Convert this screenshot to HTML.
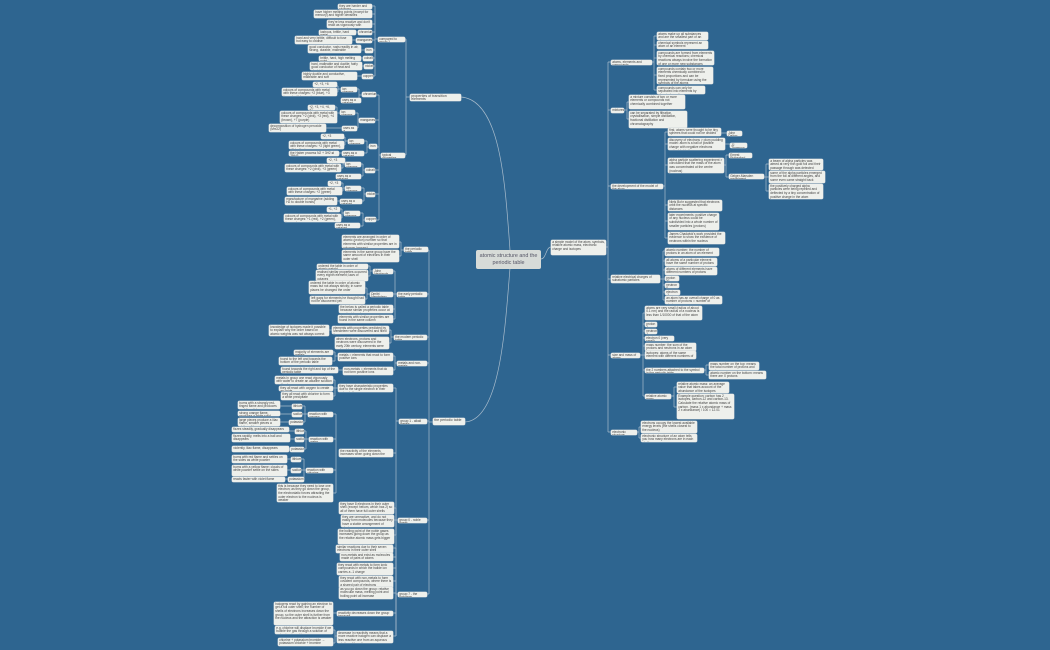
<!DOCTYPE html>
<html><head><meta charset="utf-8"><style>
body{margin:0;width:1050px;height:650px;background:#2e6590;overflow:hidden;font-family:"Liberation Sans",sans-serif;}
#c{position:relative;width:1050px;height:650px;}
svg{position:absolute;left:0;top:0}
.b{position:absolute;background:#eef0ec;border-radius:1.5px;font-size:3.2px;line-height:3.7px;color:#444;padding:0.6px 1.2px;box-sizing:border-box;overflow:hidden;box-shadow:0 0 0 0.4px #c9cfd3}
.m{position:absolute;background:#d7dbd8;border-radius:2px;color:#556;box-sizing:border-box;text-align:center;font-size:4.2px;line-height:5px;padding:1px}
</style></head><body><div id="c">
<svg width="1050" height="650" fill="none" stroke="#a9bccc" stroke-width="0.7">
<path d="M510 250 C505 180,500 100,461 97"/>
<path d="M510 268 C505 330,500 420,465 422"/>
<path d="M541 259 C546 259,546 247,551 247"/>
<path d="M606 247 H608 M608 62 V432 M608 62 H611 M608 110 H611 M608 186 H611 M608 279 H611 M608 355 H611 M608 432 H611"/>
<path d="M652 62 H654 M654 36 V90 M654 36 H657 M654 45 H657 M654 58 H657 M654 75 H657 M654 90 H657"/>
<path d="M624 110 H627 M627 102 V119 M627 102 H629 M627 119 H629"/>
<path d="M663 186 H665 M665 132 V238 M665 132 H668 M665 144 H668 M665 165 H668 M665 205 H668 M665 221 H668 M665 238 H668 M721 133 H727 M725 144 H730 M724 165 H726 M726 155 V177 M726 155 H729 M726 177 H729 M764 177 H766 M766 164 V191 M766 164 H769 M766 177 H769 M766 191 H769"/>
<path d="M660 279 H663 M663 251 V300 M663 251 H665 M663 261 H665 M663 270 H665 M663 279 H665 M663 285 H665 M663 292 H665 M663 300 H665"/>
<path d="M640 355 H643 M643 313 V396 M643 313 H645 M643 324 H645 M643 331 H645 M643 338 H645 M643 346 H645 M643 355 H645 M643 370 H645 M643 396 H645 M704 370 H706 M706 365 V375 M706 365 H709 M706 375 H709 M671 396 H674 M674 387 V407 M674 387 H677 M674 407 H677"/>
<path d="M637 432 H639 M639 427 V438 M639 427 H641 M639 438 H641"/>
<path d="M410 97 H406 M406 39 V155 M406 39 H404 M406 155 H405"/>
<path d="M378 39 H375 M375 6 V76 M375 6 H372 M375 14 H372 M375 24 H372 M375 32 H372 M375 40 H372 M375 50 H373 M375 58 H373 M375 66 H373 M375 76 H373 M358 32 H356 M356 40 H352 M365 50 H361 M363 58 H361 M364 66 H362 M362 76 H357"/>
<path d="M381 155 H379 M379 95 V220 M379 95 H376 M379 120 H375 M379 147 H377 M379 170 H375 M379 194 H375 M379 220 H376"/>
<path d="M362 95 H359 M359 89 V100 M359 89 H357 M359 100 H361 M341 89 H338 M338 86 V92 M338 86 H337 M338 92 H337"/>
<path d="M359 120 H358 M358 113 V128 M358 113 H355 M358 128 H357 M340 113 H337 M337 107 V117 M337 107 H335 M337 117 H337 M342 128 H326"/>
<path d="M369 147 H367 M367 141 V153 M367 141 H364 M367 153 H364 M348 141 H345 M345 137 V145 M345 137 H344 M345 145 H344 M342 153 H339"/>
<path d="M365 170 H363 M363 164 V176 M363 164 H361 M363 176 H361 M345 164 H343 M343 160 V168 M343 160 H345 M343 168 H341"/>
<path d="M366 194 H364 M364 188 V201 M364 188 H361 M364 201 H362 M345 188 H343 M343 183 V191 M343 183 H341 M343 191 H342 M340 201 H337"/>
<path d="M365 220 H363 M363 213 V226 M363 213 H360 M363 226 H360 M344 213 H342 M342 209 V218 M342 209 H340 M342 218 H341"/>
<path d="M433 422 H429 M429 250 V594 M429 250 H428 M429 294 H427 M429 337 H427 M429 363 H427 M429 421 H427 M429 520 H427 M429 594 H427"/>
<path d="M404 250 H401 M401 242 V256 M401 242 H399 M401 256 H399"/>
<path d="M397 294 H395 M395 271 V319 M395 271 H393 M395 294 H393 M395 309 H393 M395 319 H393 M373 271 H370 M370 266 V276 M370 266 H368 M370 276 H368 M370 294 H367 M367 288 V299 M367 288 H365 M367 299 H365"/>
<path d="M394 337 H391 M391 330 V343 M391 330 H389 M391 343 H389 M332 330 H329"/>
<path d="M397 363 H395 M395 356 V370 M395 356 H393 M395 370 H393 M338 356 H335 M335 352 V361 M335 352 H333 M335 361 H332 M343 370 H338"/>
<path d="M399 421 H396 M396 388 V636 M396 388 H393 M396 453 H393 M396 421 H396 M336 453 H336 M336 414 V493 M336 414 H333 M336 439 H333 M336 470 H333 M336 493 H333 M338 388 H335 M335 380 V396 M335 380 H333 M335 388 H333 M335 396 H333"/>
<path d="M308 414 H305 M305 406 V422 M305 406 H302 M305 414 H302 M305 422 H303 M292 406 H280 M292 414 H280 M289 422 H280"/>
<path d="M309 439 H306 M306 431 V449 M306 431 H304 M306 439 H304 M306 449 H304 M295 431 H289 M295 439 H290 M290 449 H289"/>
<path d="M306 470 H304 M304 459 V479 M304 459 H301 M304 470 H301 M304 479 H304 M291 459 H287 M291 470 H287 M288 479 H285"/>
<path d="M398 520 H396 M396 508 V535 M396 508 H394 M396 520 H394 M396 535 H394"/>
<path d="M398 594 H396 M396 548 V636 M396 548 H393 M396 557 H393 M396 568 H393 M396 581 H393 M396 593 H393 M396 613 H393 M396 636 H393 M337 613 H333 M337 636 H335 M335 630 V643 M335 630 H333 M335 643 H333"/>
</svg>

<div class="m" style="left:476px;top:250px;width:65px;height:19px;font-size:5.4px;line-height:6.5px;padding-top:3px">atomic structure and the periodic table</div>
<div class="b" style="left:551px;top:240px;width:55px;height:15px">a simple model of the atom, symbols, relative atomic mass, electronic charge and isotopes</div>
<div class="b" style="left:410px;top:94px;width:51px;height:7px;font-size:3.6px">properties of transition elements</div>
<div class="b" style="left:433px;top:418px;width:32px;height:7px;font-size:3.6px">the periodic table</div>

<!-- right side -->
<div class="b" style="left:611px;top:60px;width:41px;height:5px">atoms, elements and compounds</div>
<div class="b" style="left:657px;top:32px;width:51px;height:8px">atoms make up all substances and are the smallest part of an element</div>
<div class="b" style="left:657px;top:41px;width:51px;height:8px">chemical symbols represent an atom of an element</div>
<div class="b" style="left:657px;top:51px;width:57px;height:14px">compounds are formed from elements by chemical reactions; chemical reactions always involve the formation of one or more new substances</div>
<div class="b" style="left:657px;top:67px;width:56px;height:17px">compounds contain two or more elements chemically combined in fixed proportions and can be represented by formulae using the symbols of the atoms</div>
<div class="b" style="left:657px;top:86px;width:48px;height:8px">compounds can only be separated into elements by chemical reactions</div>
<div class="b" style="left:611px;top:108px;width:13px;height:5px">mixtures</div>
<div class="b" style="left:629px;top:95px;width:56px;height:14px">a mixture consists of two or more elements or compounds not chemically combined together</div>
<div class="b" style="left:629px;top:111px;width:58px;height:17px">can be separated by filtration, crystallisation, simple distillation, fractional distillation and chromatography</div>
<div class="b" style="left:611px;top:184px;width:52px;height:5px">the development of the model of the atom</div>
<div class="b" style="left:668px;top:128px;width:53px;height:8px">first, atoms were thought to be tiny spheres that could not be divided</div>
<div class="b" style="left:727px;top:131px;width:15px;height:5px">John Dalton</div>
<div class="b" style="left:668px;top:138px;width:57px;height:12px">discovery of electrons &gt; plum pudding model: atom is a ball of positive charge with negative electrons embedded in it</div>
<div class="b" style="left:730px;top:143px;width:17px;height:5px">JJ Thomson</div>
<div class="b" style="left:668px;top:158px;width:56px;height:15px">alpha particle scattering experiment &gt; concluded that the mass of the atom was concentrated at the centre (nucleus)</div>
<div class="b" style="left:729px;top:153px;width:23px;height:5px">Ernest Rutherford</div>
<div class="b" style="left:729px;top:174px;width:35px;height:5px">Geiger-Marsden experiment</div>
<div class="b" style="left:769px;top:159px;width:54px;height:11px">a beam of alpha particles was aimed at very thin gold foil and their passage through was detected</div>
<div class="b" style="left:769px;top:171px;width:56px;height:12px">some of the alpha particles emerged from the foil at different angles, and some even came straight back</div>
<div class="b" style="left:769px;top:184px;width:54px;height:15px">the positively charged alpha particles were being repelled and deflected by a tiny concentration of positive charge in the atom</div>
<div class="b" style="left:668px;top:200px;width:54px;height:11px">Niels Bohr suggested that electrons orbit the nucleus at specific distances</div>
<div class="b" style="left:668px;top:213px;width:51px;height:17px">later experiments: positive charge of any nucleus could be subdivided into a whole number of smaller particles (protons)</div>
<div class="b" style="left:668px;top:232px;width:57px;height:12px">James Chadwick's work provided the evidence to show the existence of neutrons within the nucleus</div>
<div class="b" style="left:611px;top:275px;width:49px;height:8px">relative electrical charges of subatomic particles</div>
<div class="b" style="left:665px;top:248px;width:54px;height:8px">atomic number: the number of protons in an atom of an element</div>
<div class="b" style="left:665px;top:258px;width:52px;height:8px">all atoms of a particular element have the same number of protons</div>
<div class="b" style="left:665px;top:267px;width:52px;height:8px">atoms of different elements have different numbers of protons</div>
<div class="b" style="left:665px;top:276px;width:14px;height:5px">proton +1</div>
<div class="b" style="left:665px;top:283px;width:14px;height:5px">neutron 0</div>
<div class="b" style="left:665px;top:290px;width:15px;height:5px">electron -1</div>
<div class="b" style="left:665px;top:296px;width:57px;height:8px">an atom has an overall charge of 0 as number of protons = number of electrons</div>
<div class="b" style="left:611px;top:353px;width:29px;height:5px">size and mass of atoms</div>
<div class="b" style="left:645px;top:306px;width:57px;height:14px">atoms are very small (radius of about 0.1 nm) and the radius of a nucleus is less than 1/10000 of that of the atom</div>
<div class="b" style="left:645px;top:322px;width:12px;height:5px">proton 1</div>
<div class="b" style="left:645px;top:329px;width:12px;height:5px">neutron 1</div>
<div class="b" style="left:645px;top:336px;width:29px;height:5px">electron 0 (very small)</div>
<div class="b" style="left:645px;top:343px;width:51px;height:8px">mass number: the sum of the protons and neutrons in an atom</div>
<div class="b" style="left:645px;top:351px;width:51px;height:8px">isotopes: atoms of the same element with different numbers of neutrons</div>
<div class="b" style="left:645px;top:368px;width:59px;height:5px">the 2 numbers attached to the symbol in the periodic table</div>
<div class="b" style="left:709px;top:362px;width:50px;height:8px">mass number on the top: means the total number of protons and neutrons</div>
<div class="b" style="left:709px;top:371px;width:57px;height:8px">atomic number on the bottom: means there are X protons</div>
<div class="b" style="left:645px;top:394px;width:26px;height:5px">relative atomic mass</div>
<div class="b" style="left:677px;top:382px;width:52px;height:11px">relative atomic mass: an average value that takes account of the abundance of the isotopes</div>
<div class="b" style="left:677px;top:394px;width:57px;height:25px">Example question: carbon has 2 isotopes, carbon-12 and carbon-13. Calculate the relative atomic mass of carbon. (mass 1 x abundance + mass 2 x abundance) / 100 = 12.01</div>
<div class="b" style="left:611px;top:430px;width:26px;height:5px">electronic structure</div>
<div class="b" style="left:641px;top:421px;width:56px;height:12px">electrons occupy the lowest available energy levels (the shells closest to the nucleus)</div>
<div class="b" style="left:641px;top:434px;width:56px;height:8px">electronic structure of an atom tells you how many electrons are in each shell</div>

<!-- properties of transition elements -->
<div class="b" style="left:378px;top:37px;width:27px;height:5px">compared to group 1</div>
<div class="b" style="left:381px;top:153px;width:24px;height:5px">typical properties</div>
<div class="b" style="left:338px;top:4px;width:34px;height:5px">they are harder and stronger</div>
<div class="b" style="left:314px;top:10px;width:58px;height:8px">have higher melting points (except for mercury) and higher densities</div>
<div class="b" style="left:327px;top:20px;width:45px;height:8px">they're less reactive and don't react as vigorously with oxygen or water</div>
<div class="b" style="left:358px;top:30px;width:14px;height:5px">chromium</div>
<div class="b" style="left:319px;top:30px;width:37px;height:5px">lustrous, brittle, hard metal</div>
<div class="b" style="left:356px;top:38px;width:16px;height:5px">manganese</div>
<div class="b" style="left:295px;top:36px;width:57px;height:8px">hard and very brittle, difficult to fuse but easy to oxidise</div>
<div class="b" style="left:365px;top:48px;width:8px;height:5px">iron</div>
<div class="b" style="left:308px;top:45px;width:53px;height:8px">good conductor, rusts readily in air, strong, durable, malleable</div>
<div class="b" style="left:363px;top:56px;width:10px;height:5px">cobalt</div>
<div class="b" style="left:319px;top:56px;width:42px;height:5px">brittle, hard, high melting point</div>
<div class="b" style="left:364px;top:64px;width:9px;height:5px">nickel</div>
<div class="b" style="left:310px;top:62px;width:52px;height:8px">hard, malleable and ductile; fairly good conductor of heat and electricity</div>
<div class="b" style="left:362px;top:74px;width:11px;height:5px">copper</div>
<div class="b" style="left:302px;top:72px;width:55px;height:8px">highly ductile and conductive, malleable and soft</div>

<div class="b" style="left:362px;top:92px;width:14px;height:5px">chromium</div>
<div class="b" style="left:341px;top:87px;width:16px;height:5px">ion charges</div>
<div class="b" style="left:313px;top:82px;width:24px;height:5px">+2, +3, +6</div>
<div class="b" style="left:282px;top:88px;width:55px;height:8px">colours of compounds with metal with these charges: +2 (blue), +3 (green), +6 (orange)</div>
<div class="b" style="left:341px;top:98px;width:20px;height:5px">uses as a catalyst</div>
<div class="b" style="left:359px;top:118px;width:16px;height:5px">manganese</div>
<div class="b" style="left:340px;top:110px;width:15px;height:5px">ion charges</div>
<div class="b" style="left:308px;top:105px;width:27px;height:5px">+2, +3, +4, +6, +7</div>
<div class="b" style="left:280px;top:111px;width:57px;height:12px">colours of compounds with metal with these charges: +2 (pink), +3 (red), +4 (brown), +7 (purple)</div>
<div class="b" style="left:342px;top:126px;width:15px;height:5px">uses as a catalyst</div>
<div class="b" style="left:269px;top:124px;width:57px;height:8px">decomposition of hydrogen peroxide (MnO2)</div>
<div class="b" style="left:369px;top:144px;width:8px;height:5px">iron</div>
<div class="b" style="left:348px;top:139px;width:16px;height:5px">ion charges</div>
<div class="b" style="left:321px;top:134px;width:23px;height:5px">+2, +3</div>
<div class="b" style="left:289px;top:141px;width:55px;height:8px">colours of compounds with metal with these charges: +2 (light green), +3 (yellow)</div>
<div class="b" style="left:342px;top:151px;width:22px;height:5px">uses as a catalyst</div>
<div class="b" style="left:289px;top:151px;width:50px;height:5px">the Haber process N2 + 3H2 ⇌ 2NH3</div>
<div class="b" style="left:365px;top:168px;width:10px;height:5px">cobalt</div>
<div class="b" style="left:345px;top:162px;width:16px;height:5px">ion charges</div>
<div class="b" style="left:327px;top:158px;width:18px;height:5px">+2, +3</div>
<div class="b" style="left:285px;top:164px;width:56px;height:8px">colours of compounds with metal with these charges: +2 (pink), +3 (green)</div>
<div class="b" style="left:336px;top:174px;width:25px;height:5px">uses as a catalyst</div>
<div class="b" style="left:366px;top:192px;width:9px;height:5px">nickel</div>
<div class="b" style="left:345px;top:186px;width:16px;height:5px">ion charges</div>
<div class="b" style="left:328px;top:181px;width:13px;height:5px">+2, +3</div>
<div class="b" style="left:287px;top:187px;width:55px;height:8px">colours of compounds with metal with these charges: +2 (green)</div>
<div class="b" style="left:340px;top:199px;width:22px;height:5px">uses as a catalyst</div>
<div class="b" style="left:285px;top:197px;width:52px;height:8px">manufacture of margarine (adding H2 to double bonds)</div>
<div class="b" style="left:365px;top:217px;width:11px;height:5px">copper</div>
<div class="b" style="left:344px;top:211px;width:16px;height:5px">ion charges</div>
<div class="b" style="left:327px;top:207px;width:13px;height:5px">+1, +2</div>
<div class="b" style="left:284px;top:214px;width:57px;height:8px">colours of compounds with metal with these charges: +1 (red), +2 (green), (orange)</div>
<div class="b" style="left:335px;top:223px;width:25px;height:5px">uses as a catalyst</div>

<!-- periodic table -->
<div class="b" style="left:404px;top:247px;width:24px;height:5px">the periodic table</div>
<div class="b" style="left:342px;top:235px;width:57px;height:13px">elements are arranged in order of atomic (proton) number so that elements with similar properties are in columns (groups)</div>
<div class="b" style="left:342px;top:250px;width:57px;height:12px">elements in the same group have the same amount of electrons in their outer shell</div>
<div class="b" style="left:397px;top:292px;width:30px;height:5px">the early periodic table</div>
<div class="b" style="left:373px;top:269px;width:20px;height:5px">John Newlands</div>
<div class="b" style="left:317px;top:264px;width:51px;height:5px">ordered the table in order of atomic weight</div>
<div class="b" style="left:316px;top:270px;width:52px;height:11px">realised similar properties occurred every eighth element; laws of octaves</div>
<div class="b" style="left:370px;top:292px;width:23px;height:5px">Dmitri Mendeleev</div>
<div class="b" style="left:309px;top:281px;width:56px;height:13px">ordered the table in order of atomic mass but not always strictly; in some places he changed the order</div>
<div class="b" style="left:310px;top:296px;width:55px;height:8px">left gaps for elements he thought had not be discovered yet</div>
<div class="b" style="left:339px;top:305px;width:54px;height:8px">the below is called a periodic table because similar properties occur at regular intervals</div>
<div class="b" style="left:338px;top:315px;width:55px;height:8px">elements with similar properties are found in the same column</div>
<div class="b" style="left:394px;top:335px;width:33px;height:5px">the modern periodic table</div>
<div class="b" style="left:332px;top:326px;width:57px;height:8px">elements with properties predicted by Mendeleev were discovered and filled the gaps</div>
<div class="b" style="left:335px;top:337px;width:54px;height:12px">when electrons, protons and neutrons were discovered in the early 20th century, elements were ordered by atomic number</div>
<div class="b" style="left:269px;top:325px;width:60px;height:11px">knowledge of isotopes made it possible to explain why the order based on atomic weights was not always correct</div>
<div class="b" style="left:397px;top:361px;width:30px;height:5px">metals and non-metals</div>
<div class="b" style="left:338px;top:353px;width:55px;height:8px">metals = elements that react to form positive ions</div>
<div class="b" style="left:294px;top:350px;width:39px;height:5px">majority of elements are metals</div>
<div class="b" style="left:279px;top:357px;width:53px;height:8px">found to the left and towards the bottom of the periodic table</div>
<div class="b" style="left:343px;top:367px;width:50px;height:8px">non-metals = elements that do not form positive ions</div>
<div class="b" style="left:281px;top:367px;width:57px;height:6px">found towards the right and top of the periodic table</div>
<div class="b" style="left:399px;top:419px;width:28px;height:5px">group 1 - alkali metals</div>
<div class="b" style="left:338px;top:384px;width:55px;height:8px">they have characteristic properties due to the single electron in their outer shell</div>
<div class="b" style="left:275px;top:376px;width:58px;height:8px">metals in group one react vigorously with water to create an alkaline solution and hydrogen</div>
<div class="b" style="left:279px;top:386px;width:54px;height:5px">they all react with oxygen to create an oxide</div>
<div class="b" style="left:281px;top:392px;width:52px;height:8px">they all react with chlorine to form a white precipitate</div>
<div class="b" style="left:308px;top:412px;width:25px;height:5px">reaction with oxygen</div>
<div class="b" style="left:292px;top:404px;width:10px;height:5px">lithium</div>
<div class="b" style="left:292px;top:412px;width:10px;height:5px">sodium</div>
<div class="b" style="left:289px;top:420px;width:14px;height:5px">potassium</div>
<div class="b" style="left:238px;top:401px;width:42px;height:8px">burns with a strongly red-tinged flame and produces a white solid</div>
<div class="b" style="left:238px;top:411px;width:42px;height:5px">strong orange flame, produces a white solid</div>
<div class="b" style="left:238px;top:418px;width:42px;height:8px">large pieces produce a lilac flame, smaller pieces a white solid</div>
<div class="b" style="left:309px;top:437px;width:24px;height:5px">reaction with water</div>
<div class="b" style="left:295px;top:429px;width:9px;height:5px">lithium</div>
<div class="b" style="left:295px;top:437px;width:9px;height:5px">sodium</div>
<div class="b" style="left:290px;top:447px;width:14px;height:5px">potassium</div>
<div class="b" style="left:232px;top:427px;width:57px;height:5px">fizzes steadily, gradually disappears</div>
<div class="b" style="left:232px;top:434px;width:58px;height:8px">fizzes rapidly, melts into a ball and disappears</div>
<div class="b" style="left:232px;top:446px;width:57px;height:6px">violently, lilac flame, disappears</div>
<div class="b" style="left:339px;top:449px;width:54px;height:8px">the reactivity of the elements increases when going down the group</div>
<div class="b" style="left:306px;top:468px;width:27px;height:5px">reaction with chlorine</div>
<div class="b" style="left:291px;top:457px;width:10px;height:5px">lithium</div>
<div class="b" style="left:291px;top:468px;width:10px;height:5px">sodium</div>
<div class="b" style="left:288px;top:477px;width:16px;height:5px">potassium</div>
<div class="b" style="left:232px;top:455px;width:55px;height:8px">burns with red flame and settles on the sides as white powder</div>
<div class="b" style="left:232px;top:465px;width:55px;height:11px">burns with a yellow flame; clouds of white powder settle on the sides</div>
<div class="b" style="left:232px;top:477px;width:53px;height:5px">reacts faster with violet flame</div>
<div class="b" style="left:277px;top:484px;width:56px;height:18px">this is because they need to lose one electron; as they go down the group, the electrostatic forces attracting the outer electron to the nucleus is weaker</div>
<div class="b" style="left:398px;top:518px;width:29px;height:5px">group 0 - noble gases</div>
<div class="b" style="left:339px;top:502px;width:55px;height:12px">they have 8 electrons in their outer shell (except helium, which has 2) so all of them have full outer shells</div>
<div class="b" style="left:341px;top:515px;width:53px;height:12px">they are unreactive, and do not easily form molecules because they have a stable arrangement of electrons</div>
<div class="b" style="left:338px;top:529px;width:56px;height:15px">the boiling point of the noble gases increases going down the group as the relative atomic mass gets bigger</div>
<div class="b" style="left:398px;top:592px;width:29px;height:5px">group 7 - the halogens</div>
<div class="b" style="left:336px;top:545px;width:57px;height:8px">similar reactions due to their seven electrons in their outer shell</div>
<div class="b" style="left:340px;top:553px;width:53px;height:8px">non-metals and exist as molecules made of pairs of atoms</div>
<div class="b" style="left:337px;top:563px;width:56px;height:12px">they react with metals to form ionic compounds in which the halide ion carries a -1 charge</div>
<div class="b" style="left:339px;top:576px;width:54px;height:12px">they react with non-metals to form covalent compounds, where there is a shared pair of electrons</div>
<div class="b" style="left:339px;top:587px;width:54px;height:12px">as you go down the group: relative molecular mass, melting point and boiling point all increase</div>
<div class="b" style="left:337px;top:611px;width:56px;height:5px">reactivity decreases down the group because</div>
<div class="b" style="left:274px;top:602px;width:59px;height:23px">halogens react by gaining an electron to get a full outer shell; the number of shells of electrons increases down the group, so the outer shell is further from the nucleus and the attraction is weaker</div>
<div class="b" style="left:337px;top:631px;width:56px;height:12px">decrease in reactivity means that a more reactive halogen can displace a less reactive one from an aqueous solution of its salt</div>
<div class="b" style="left:275px;top:626px;width:58px;height:8px">e.g. chlorine will displace bromide if we bubble the gas through a solution of potassium bromide</div>
<div class="b" style="left:278px;top:638px;width:55px;height:8px">chlorine + potassium bromide → potassium chloride + bromine</div>
</div></body></html>
